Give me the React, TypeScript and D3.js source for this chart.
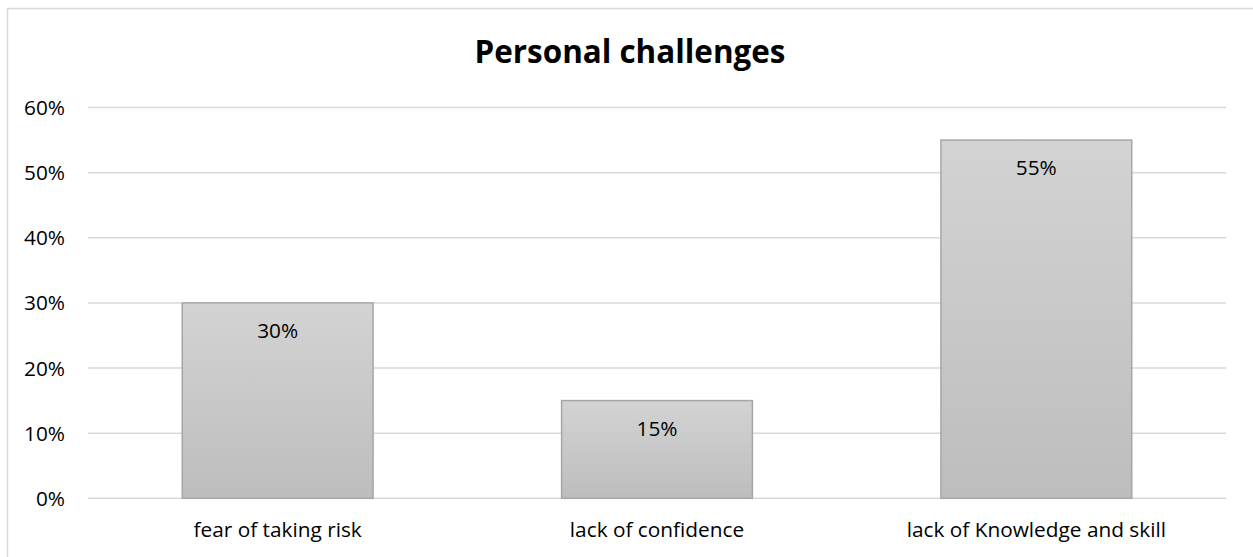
import React from "react";
import * as d3 from "d3";

const categories = ["fear of taking risk", "lack of confidence", "lack of Knowledge and skill"];
const values = [0.30, 0.15, 0.55];
const yTicks = [0, 0.1, 0.2, 0.3, 0.4, 0.5, 0.6];
const title = "Personal challenges";

const W = 1253;
const H = 557;
const FONT = "'Open Sans', Lato, sans-serif";
const LABEL_SIZE = 20.8;

export default function App() {
  const x = d3
    .scaleBand<string>()
    .domain(categories)
    .range([88, 1226])
    .paddingInner(0.497)
    .paddingOuter(0.2485);
  const y = d3.scaleLinear().domain([0, 0.6]).range([498.3, 107.5]);
  const fmt = d3.format(".0%");

  return (
    <div style={{ position: "absolute", left: 0, top: 0 }}>
      <svg width={W} height={H} style={{ display: "block", background: "#fff" }}>
        <defs>
          <linearGradient id="barGrad" x1="0" y1="0" x2="0" y2="1">
            <stop offset="0%" stopColor="#d3d3d3" />
            <stop offset="100%" stopColor="#bdbdbd" />
          </linearGradient>
        </defs>
        <rect x={7.5} y={8.5} width={W + 10} height={H + 10} fill="#fff" stroke="#d9d9d9" strokeWidth={1.5} />
        <text
          x={(88 + 1226) / 2 - 27}
          y={63}
          textAnchor="middle"
          fontFamily={FONT}
          fontWeight="bold"
          fontSize={31.4}
          fill="#000"
        >
          {title}
        </text>
        {yTicks.map((t) => (
          <g key={t}>
            <line x1={88} x2={1226} y1={y(t)} y2={y(t)} stroke="#d9d9d9" strokeWidth={1.5} />
            <text
              x={65}
              y={y(t)}
              dy="0.36em"
              textAnchor="end"
              fontFamily={FONT}
              fontSize={LABEL_SIZE}
              fill="#000"
            >
              {fmt(t)}
            </text>
          </g>
        ))}
        {categories.map((c, i) => {
          const x0 = x(c)!;
          const bw = x.bandwidth();
          const top = y(values[i]);
          return (
            <g key={c}>
              <rect
                x={x0}
                y={top}
                width={bw}
                height={y(0) - top}
                fill="url(#barGrad)"
                stroke="#a6a6a6"
                strokeWidth={1.5}
              />
              <text
                x={x0 + bw / 2}
                y={top + 35}
                textAnchor="middle"
                fontFamily={FONT}
                fontSize={LABEL_SIZE}
                fill="#000"
              >
                {fmt(values[i])}
              </text>
              <text
                x={x0 + bw / 2}
                y={537}
                textAnchor="middle"
                fontFamily={FONT}
                fontSize={LABEL_SIZE}
                fill="#000"
              >
                {c}
              </text>
            </g>
          );
        })}
      </svg>
    </div>
  );
}
